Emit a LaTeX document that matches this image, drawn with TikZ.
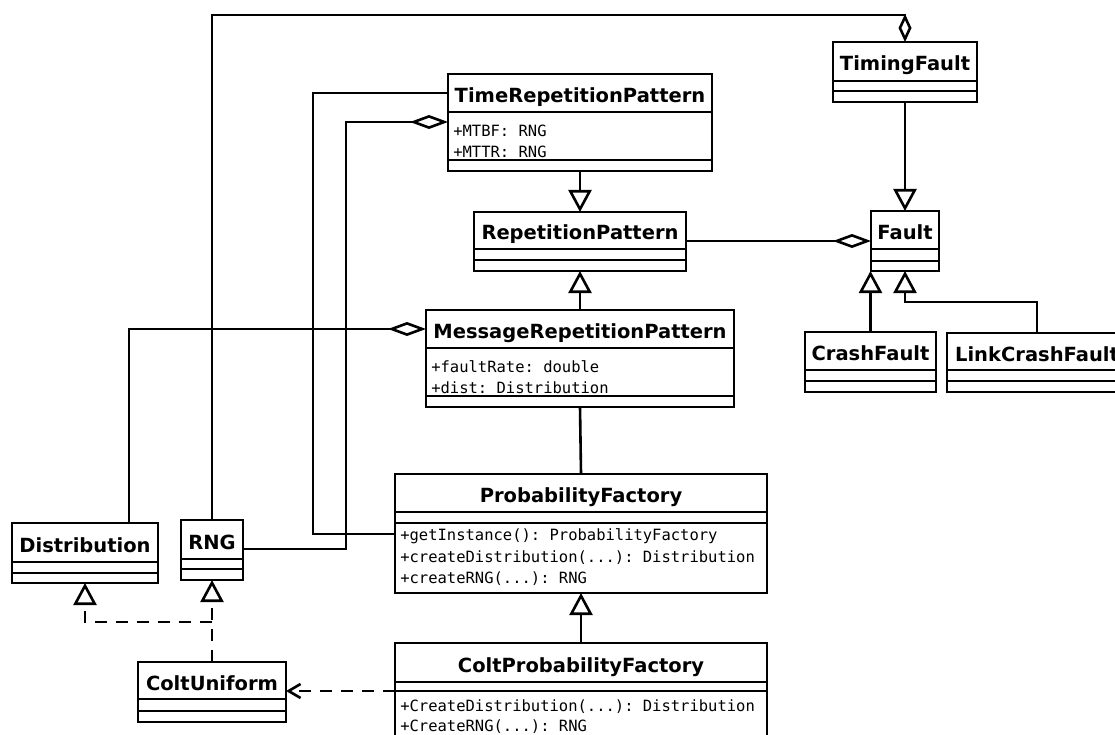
\documentclass[tikz,border=0pt]{standalone}
\usepackage{fontspec}
\setmainfont{DejaVu Sans}
\setmonofont{DejaVu Sans Mono}
\usetikzlibrary{arrows.meta}
\newcommand\umlclass[8]{%
  \node[box,hdr,minimum width={(#4-#2)*1pt},minimum height={(#5-#3)*1pt}] (#1) at (#2,#3) {#8};
  \node[box,minimum width={(#4-#2)*1pt},minimum height={(#6-#5)*1pt}] (#1-a) at (#2,#5) {};
  \node[box,minimum width={(#4-#2)*1pt},minimum height={(#7-#6)*1pt}] (#1-o) at (#2,#6) {};
}
\begin{document}
\begin{tikzpicture}[x=1pt,y=-1pt,line width=2.6pt,
  box/.style={draw,inner sep=0pt,outer sep=0pt,anchor=north west},
  hdr/.style={font=\bfseries\fontsize{19.5}{23}\selectfont,text height=19pt,text depth=0pt},
  attr/.style={font=\ttfamily\fontsize{15.5}{18}\selectfont,anchor=base west,inner sep=0pt},
  gen/.style={-{Triangle[open,length=22pt,width=23pt]}},
  agg/.style={{Diamond[open,length=38pt,width=14pt]}-},
  dsh/.style={dash pattern=on 12pt off 9pt},
  dep/.style={dsh,-{Straight Barb[length=12pt,width=14pt]}}]
\useasboundingbox (0,0) rectangle (1115,735);
\clip (0,0) rectangle (1115,735);
% classes
\umlclass{tf}{833}{42}{977}{81}{91}{102}{TimingFault}
\umlclass{trp}{448}{74}{712}{112}{160}{171}{TimeRepetitionPattern}
\umlclass{rp}{474}{212}{686}{249}{260}{271}{RepetitionPattern}
\umlclass{fault}{871}{211}{939}{249}{261}{271}{Fault}
\umlclass{mrp}{426}{310}{734}{348}{396}{407}{MessageRepetitionPattern}
\umlclass{cf}{805}{332}{936}{370}{381}{392}{CrashFault}
\umlclass{lcf}{947}{333}{1127}{370}{381}{392}{LinkCrashFault}
\umlclass{pf}{395}{474}{767}{512}{523}{593}{ProbabilityFactory}
\umlclass{cpf}{395}{643}{767}{682}{691}{760}{ColtProbabilityFactory}
\umlclass{dist}{12}{523}{158}{562}{573}{583}{Distribution}
\umlclass{rng}{181}{520}{243}{559}{569}{580}{RNG}
\umlclass{cu}{138}{662}{286}{699}{711}{722}{ColtUniform}
% members
\node[attr] (trp1) at (452,136.5) {+MTBF: RNG};
\node[attr] (trp2) at (452,157.5) {+MTTR: RNG};
\node[attr] (mrp1) at (430,372) {+faultRate: double};
\node[attr] (mrp2) at (430,393) {+dist: Distribution};
\node[attr] (pf1) at (399,540.5) {+getInstance(): ProbabilityFactory};
\node[attr] (pf2) at (399,562.5) {+createDistribution(...): Distribution};
\node[attr] (pf3) at (399,583.5) {+createRNG(...): RNG};
\node[attr] (cpf1) at (399,711.5) {+CreateDistribution(...): Distribution};
\node[attr] (cpf2) at (399,731.5) {+CreateRNG(...): RNG};
% connectors
\coordinate (tl1) at (313,534);
\coordinate (tl2) at (346,549);
\coordinate (cuj) at (212,622);
\coordinate (lb) at (905,302);
\draw[{Diamond[open,length=28pt,width=13pt]}-] (tf.north) -- ++(0,-27) -| (rng.north);
\draw (trp.west) -| (tl1) -- (tl1 -| pf-o.west);
\draw[agg] ([yshift=-10pt]trp.south west) -| (tl2) -- (tl2 -| rng.east);
\draw[agg] (mrp.west) -| ([xshift=44pt]dist.north);
\draw[agg] ([yshift=-11pt]fault.west) -- ([yshift=-11pt]fault.west -| rp.east);
\draw[gen] (trp-o.south) -- (rp.north);
\draw[gen] (mrp.north) -- (rp-o.south);
\draw[gen] (tf-o.south) -- (fault.north);
\draw[gen] (cf.north) -- (cf.north |- fault-o.south);
\draw[gen] (lcf.north) |- (lb) -- (fault-o.south);
\draw (mrp-o.south) -- (pf.north);
\draw[gen] (cpf.north) -- (pf-o.south);
\draw[dsh,gen] (cu.north) -- (cu.north |- rng-o.south);
\draw[dsh,gen] (cuj) -| (dist-o.south);
\draw[dep] (cpf-a.south west) -- (cpf-a.south west -| cu.east);
\end{tikzpicture}
\end{document}
